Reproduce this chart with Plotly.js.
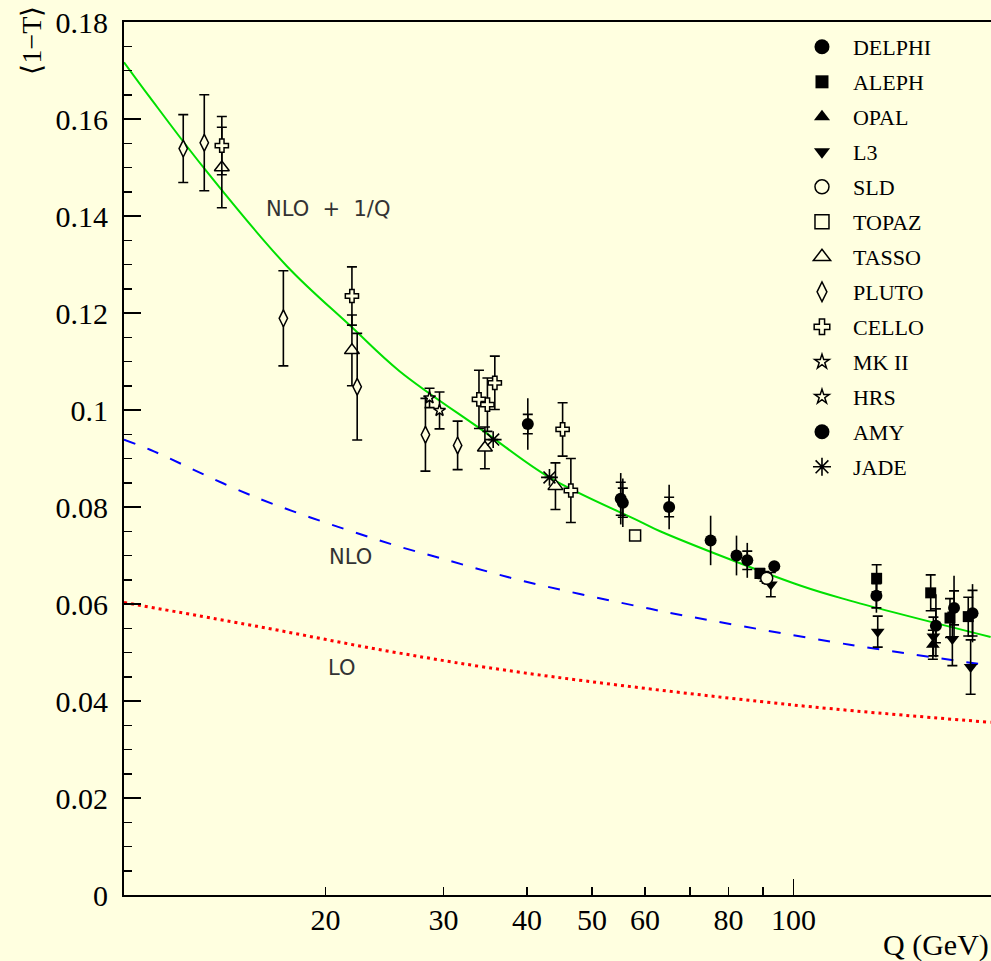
<!DOCTYPE html>
<html>
<head>
<meta charset="utf-8">
<script src="https://cdn.plot.ly/plotly-3.0.1.min.js"></script>
<style>
html,body{margin:0;padding:0;overflow:hidden;background:#ffffe0;}
#chart{width:991px;height:961px;}
</style>
</head>
<body>
<div id="chart"></div>
<script>
// ---------- theory curves ----------
const nlo1qQ = [10, 10.94, 13.18, 17.5, 21.8, 25.8, 34.4, 43.3, 59, 63.2, 102.3, 121.4, 197];
const nlo1qV = [0.1717, 0.1644, 0.1498, 0.1297, 0.1173, 0.108, 0.0957, 0.086, 0.077, 0.075, 0.0638, 0.0607, 0.0532];
const nloQ = [10, 10.94, 15.8, 25, 29.6, 39.6, 61.1, 70, 121.4, 197];
const nloV = [0.0939, 0.0918, 0.0819, 0.0724, 0.0695, 0.0647, 0.059, 0.0574, 0.0516, 0.0473];
const loQ = [10, 15.8, 25, 39.6, 99.6, 197];
const loV = [0.0603, 0.0554, 0.0502, 0.0458, 0.0392, 0.0356];

// ---------- measurements ----------
const delphiQ = [40.1, 65.2, 75.2, 82.2, 85.3, 93.6, 133, 163.2, 173.7, 185.1];
const delphiV = [0.0971, 0.080, 0.0731, 0.070, 0.069, 0.0678, 0.0617, 0.0555, 0.0592, 0.0581];
const delphiStat = [0.002, 0.002, 0, 0, 0.0019, 0, 0.0025, 0.0035, 0.0035, 0.0047];
const delphiTot = [0.0053, 0.0046, 0.0051, 0.0041, 0.0036, 0, 0.0035, 0.0065, 0.0066, 0.006];

const alephQ = [89.1, 133.1, 160.3, 171.3, 182.4];
const alephV = [0.0663, 0.0653, 0.0623, 0.0571, 0.0574];
const alephErr = [0.001, 0.0028, 0.0037, 0.004, 0.004];

const opalQ = [90.5, 161.5];
const opalV = [0.0657, 0.0516];
const opalErr = [0.001, 0.003];

const l3Q = [92.5, 133.6, 161.8, 172.7, 183.9];
const l3V = [0.064, 0.0543, 0.0533, 0.0528, 0.047];
const l3Err = [0.0025, 0.0032, 0.004, 0.0055, 0.0056];

const sldQ = [91.2];
const sldV = [0.0653];
const sldErr = [0.001];

const topazQ = [58.0];
const topazV = [0.0741];
const topazErr = [0];

const tassoQ = [14.0, 21.9, 34.6, 44.1];
const tassoV = [0.150, 0.1123, 0.0922, 0.0843];
const tassoErr = [0.0083, 0.0073, 0.0043, 0.0048];

const plutoQ = [12.26, 13.18, 17.3, 22.3, 28.2, 31.5];
const plutoV = [0.1539, 0.1551, 0.1189, 0.1048, 0.0949, 0.0927];
const plutoErr = [0.007, 0.0099, 0.0098, 0.011, 0.0075, 0.005];

const celloQ = [14.0, 21.9, 33.9, 34.9, 35.8, 45.2, 46.5];
const celloV = [0.1545, 0.1235, 0.1022, 0.1011, 0.1056, 0.096, 0.0834];
const celloErr = [0.006, 0.006, 0.006, 0.0055, 0.0055, 0.0055, 0.0066];

const mk2Q = [28.6];
const mk2V = [0.1025];
const mk2Err = [0.002];

const hrsQ = [29.6];
const hrsV = [0.0999];
const hrsErr = [0.0038];

const amyQ = [55.2, 55.6];
const amyV = [0.0817, 0.0809];
const amyStat = [0.0034, 0.003];
const amyTot = [0.0053, 0.005];

const jadeQ = [35.6, 43.2];
const jadeV = [0.0939, 0.0861];
const jadeErr = [0, 0];

// ---------- axes ----------
const xTickVals = [20, 30, 40, 50, 60, 70, 80, 90, 100];
const xTickText = ['20', '30', '40', '50', '60', '', '80', '', '100'];
const yTickVals = [0, 0.02, 0.04, 0.06, 0.08, 0.1, 0.12, 0.14, 0.16, 0.18];
const yTickText = ['0', '0.02', '0.04', '0.06', '0.08', '0.1', '0.12', '0.14', '0.16', '0.18'];

const BG = '#ffffe0';
const serif = 'Liberation Serif, Times New Roman, serif';

function mk(symbol, size, filled) {
  if (symbol === 'asterisk-open') return {symbol: symbol, size: size, color: 'black', line: {color: 'black', width: 1.6}};
  return {symbol: symbol, size: size, color: filled ? 'black' : BG, line: {color: 'black', width: filled ? 0 : 1.5}};
}
// data trace (not in legend) + legend entry with a larger symbol
function exp(name, q, v, err, symbol, size, legSize, filled) {
  return [
    {type: 'scatter', mode: 'markers', name: name, x: q, y: v, legendgroup: name, showlegend: false,
     marker: mk(symbol, size, filled),
     error_y: {type: 'data', array: err, visible: true, color: 'black', thickness: 1.6, width: 5}},
    {type: 'scatter', mode: 'markers', name: name, x: [null], y: [null], legendgroup: name, showlegend: true,
     marker: mk(symbol, legSize, filled)}
  ];
}
function totBars(name, q, v, err) {
  return {
    type: 'scatter', mode: 'markers', x: q, y: v, showlegend: false, legendgroup: name,
    hoverinfo: 'skip', marker: {size: 1, opacity: 0},
    error_y: {type: 'data', array: err, visible: true, color: 'black', thickness: 1.6, width: 0}
  };
}

const traces = [
  {type: 'scatter', mode: 'lines', x: loQ, y: loV, showlegend: false,
   line: {color: '#ff0000', width: 3, dash: '3px,4px', shape: 'spline'}},
  {type: 'scatter', mode: 'lines', x: nloQ, y: nloV, showlegend: false,
   line: {color: '#0000ff', width: 2, dash: '12px,13px', shape: 'spline'}},
  {type: 'scatter', mode: 'lines', x: nlo1qQ, y: nlo1qV, showlegend: false,
   line: {color: '#00e000', width: 2, shape: 'spline'}},
  totBars('DELPHI', delphiQ, delphiV, delphiTot),
  totBars('AMY', amyQ, amyV, amyTot),
  ...exp('DELPHI', delphiQ, delphiV, delphiStat, 'circle', 12, 15, true),
  ...exp('ALEPH', alephQ, alephV, alephErr, 'square', 11, 13, true),
  ...exp('OPAL', opalQ, opalV, opalErr, 'triangle-up', 12, 14, true),
  ...exp('L3', l3Q, l3V, l3Err, 'triangle-down', 12, 14, true),
  ...exp('SLD', sldQ, sldV, sldErr, 'circle', 12, 14, false),
  ...exp('TOPAZ', topazQ, topazV, topazErr, 'square', 11, 14, false),
  ...exp('TASSO', tassoQ, tassoV, tassoErr, 'triangle-up', 13, 15, false),
  ...exp('PLUTO', plutoQ, plutoV, plutoErr, 'diamond-tall', 12, 14, false),
  ...exp('CELLO', celloQ, celloV, celloErr, 'cross', 11, 13, false),
  ...exp('MK II', mk2Q, mk2V, mk2Err, 'star', 9, 11, false),
  ...exp('HRS', hrsQ, hrsV, hrsErr, 'star', 9, 11, false),
  ...exp('AMY', amyQ, amyV, amyStat, 'circle', 12, 15, true),
  ...exp('JADE', jadeQ, jadeV, jadeErr, 'asterisk-open', 14, 15, false),
  // long tick at 100 drawn by an overlay axis
  {type: 'scatter', mode: 'markers', x: [100], y: [0.09], xaxis: 'x2', showlegend: false,
   hoverinfo: 'skip', marker: {size: 1, opacity: 0}}
];

const xr = [1, 2.295];
const layout = {
  width: 991, height: 961,
  margin: {l: 124, r: 0, t: 22, b: 66, pad: 0},
  paper_bgcolor: BG, plot_bgcolor: BG,
  font: {family: serif, size: 30, color: 'black'},
  showlegend: true,
  xaxis: {
    type: 'log', range: xr, tickmode: 'array', tickvals: xTickVals, ticktext: xTickText,
    ticks: 'inside', ticklen: 8, tickwidth: 1.5, tickcolor: 'black',
    showline: true, linewidth: 2, linecolor: 'black', mirror: true,
    showgrid: false, zeroline: false, ticklabelstandoff: -3,
    tickfont: {family: serif, size: 30, color: 'black'}
  },
  xaxis2: {
    type: 'log', range: xr, overlaying: 'x', anchor: 'y', side: 'bottom',
    tickmode: 'array', tickvals: [100], ticks: 'inside', ticklen: 16, tickwidth: 1.5,
    tickcolor: 'black', showticklabels: false, showline: false, showgrid: false, zeroline: false
  },
  yaxis: {
    range: [0, 0.18], tickmode: 'array', tickvals: yTickVals, ticktext: yTickText,
    ticks: 'inside', ticklen: 17, tickwidth: 1.5, tickcolor: 'black',
    minor: {tickmode: 'linear', tick0: 0, dtick: 0.005, ticks: 'inside', ticklen: 8, tickwidth: 1.5, tickcolor: 'black', showgrid: false},
    showline: true, linewidth: 2, linecolor: 'black', mirror: false,
    showgrid: false, zeroline: false, ticklabelstandoff: 8,
    tickfont: {family: serif, size: 30, color: 'black'}
  },
  legend: {
    x: 0.7693, y: 0.9954, xanchor: 'left', yanchor: 'top',
    bgcolor: 'rgba(0,0,0,0)', borderwidth: 0,
    font: {family: serif, size: 22, color: 'black'},
    traceorder: 'grouped', tracegroupgap: 3.4, itemwidth: 52
  },
  annotations: [
    {xref: 'x', yref: 'y', x: Math.log10(20.2), y: 0.1415, text: 'NLO\u00a0\u00a0+\u00a0\u00a01/Q', showarrow: false,
     font: {family: 'DejaVu Sans, sans-serif', size: 21, color: '#333'}},
    {xref: 'x', yref: 'y', x: Math.log10(21.8), y: 0.0697, text: 'NLO', showarrow: false,
     font: {family: 'DejaVu Sans, sans-serif', size: 21, color: '#333'}},
    {xref: 'x', yref: 'y', x: Math.log10(21.1), y: 0.0468, text: 'LO', showarrow: false,
     font: {family: 'DejaVu Sans, sans-serif', size: 21, color: '#333'}},
    {xref: 'paper', yref: 'paper', x: -0.107, y: 0.979, text: '\u27e81\u2212T\u27e9', textangle: -90,
     showarrow: false, xanchor: 'center', yanchor: 'middle', font: {family: serif, size: 28, color: 'black'}},
    {xref: 'paper', yref: 'paper', x: 1, y: -0.057, text: 'Q (GeV)', showarrow: false,
     xanchor: 'right', yanchor: 'middle', font: {family: serif, size: 30, color: 'black'}}
  ]
};

Plotly.newPlot('chart', traces, layout, {displayModeBar: false, staticPlot: true});
</script>
</body>
</html>
